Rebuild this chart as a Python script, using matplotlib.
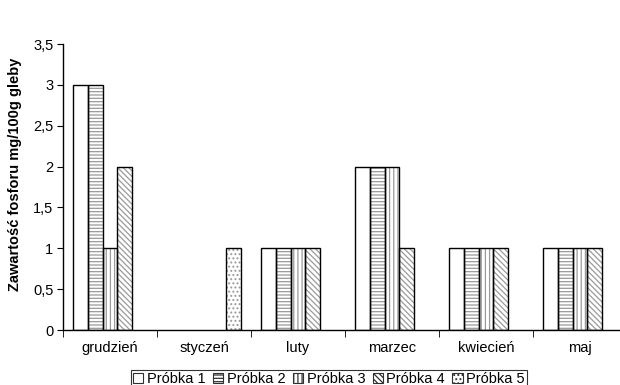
import matplotlib
matplotlib.use("Agg")
import matplotlib.pyplot as plt
from matplotlib.patches import Patch
from matplotlib.ticker import FuncFormatter
import numpy as np

plt.rcParams.update({
    "font.family": ["Liberation Sans", "DejaVu Sans"],
    "font.size": 10.5,
    "hatch.linewidth": 0.9,
})

months = ["grudzień", "styczeń", "luty", "marzec", "kwiecień", "maj"]
series = ["Próbka 1", "Próbka 2", "Próbka 3", "Próbka 4", "Próbka 5"]
probka1 = [3, 0, 1, 2, 1, 1]
probka2 = [3, 0, 1, 2, 1, 1]
probka3 = [1, 0, 1, 2, 1, 1]
probka4 = [2, 0, 1, 1, 1, 1]
probka5 = [0, 1, 0, 0, 0, 0]
values = [probka1, probka2, probka3, probka4, probka5]

# czarno-białe wypełnienia jak w arkuszu
hatches = ["", "-----", "||||", "\\\\\\\\\\\\", "...."]
HATCH_GRAY = "#9a9a9a"

fig = plt.figure(figsize=(6.2, 3.85), dpi=100)
ax = fig.add_axes([63 / 620, 1 - 330 / 385, 564 / 620, 286 / 385])

x = np.arange(len(months))
w = 0.156
for i, (vals, h) in enumerate(zip(values, hatches)):
    pos = x + (i - 2) * w
    vals = np.asarray(vals, dtype=float)
    shown = vals > 0
    # najpierw szrafura w kolorze szarym, potem czarny obrys
    ax.bar(pos[shown], vals[shown], w, color="white", edgecolor=HATCH_GRAY,
           hatch=h, linewidth=0, zorder=2)
    ax.bar(pos[shown], vals[shown], w, fill=False, edgecolor="black",
           linewidth=1.0, zorder=3)

ax.set_xlim(-0.5, len(months) - 0.5)
ax.set_ylim(0, 3.5)
ax.set_yticks(np.arange(0, 3.51, 0.5))
ax.yaxis.set_major_formatter(FuncFormatter(
    lambda v, _: ("%g" % v).replace(".", ",")))

ax.set_xticks(x)
ax.set_xticklabels(months)
ax.set_xticks(np.arange(-0.5, len(months), 1), minor=True)
ax.tick_params(axis="x", which="major", length=0, pad=8)
ax.tick_params(axis="x", which="minor", length=5, direction="out")
ax.tick_params(axis="y", length=4, direction="out", pad=3)

for side in ("top", "right"):
    ax.spines[side].set_visible(False)
for side in ("left", "bottom"):
    ax.spines[side].set_color("black")
    ax.spines[side].set_linewidth(1.0)

ax.set_ylabel("Zawartość fosforu mg/100g gleby", fontweight="bold",
              fontsize=10.5)
ax.yaxis.set_label_coords(-0.072, 0.545)

handles = [Patch(facecolor="white", edgecolor="#303030", hatch=h,
                 linewidth=0.8, label=s) for s, h in zip(series, hatches)]
leg = fig.legend(handles=handles, loc="upper center",
                 bbox_to_anchor=(329 / 620, 1 - 370 / 385), ncol=5,
                 frameon=True, fancybox=False, edgecolor="black",
                 handlelength=0.7, handleheight=0.7, handletextpad=0.25,
                 columnspacing=0.5, borderpad=0.15, borderaxespad=0,
                 fontsize=10.5)
leg.get_frame().set_linewidth(0.8)

fig.savefig("out.png", dpi=100)
